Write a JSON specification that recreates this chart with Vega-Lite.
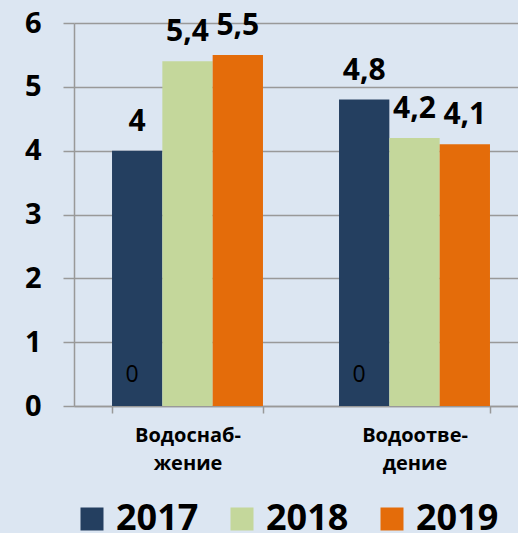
{
  "$schema": "https://vega.github.io/schema/vega-lite/v6.json",
  "width": 444,
  "height": 383,
  "autosize": {"type": "none"},
  "padding": {"left": 74, "top": 23, "right": 0, "bottom": 127},
  "background": "#dce6f2",
  "config": {
    "view": {"stroke": null},
    "font": "Open Sans",
    "axis": {"domainWidth": 1.5, "tickWidth": 1.5, "gridWidth": 1.5, "domainColor": "#999999", "tickColor": "#999999", "gridColor": "#999999"}
  },
  "data": {
    "values": [
      {"cat": "Водоснаб-|жение", "year": "2017", "value": 4.0, "label": "4", "zero": "0"},
      {"cat": "Водоснаб-|жение", "year": "2018", "value": 5.4, "label": "5,4", "zero": ""},
      {"cat": "Водоснаб-|жение", "year": "2019", "value": 5.5, "label": "5,5", "zero": ""},
      {"cat": "Водоотве-|дение", "year": "2017", "value": 4.8, "label": "4,8", "zero": "0"},
      {"cat": "Водоотве-|дение", "year": "2018", "value": 4.2, "label": "4,2", "zero": ""},
      {"cat": "Водоотве-|дение", "year": "2019", "value": 4.1, "label": "4,1", "zero": ""}
    ]
  },
  "encoding": {
    "x": {
      "field": "cat", "type": "nominal", "sort": null,
      "scale": {"range": [0, 454], "paddingInner": 0.335, "paddingOuter": 0.1675},
      "axis": {
        "title": null, "labelAngle": 0, "tickBand": "extent", "tickSize": 7, "grid": false,
        "labelFont": "Open Sans", "labelFontWeight": "bold", "labelFontSize": 20, "labelColor": "black",
        "labelPadding": 12, "labelLineHeight": 28, "labelExpr": "split(datum.label, '|')"
      }
    },
    "xOffset": {"field": "year", "type": "nominal", "sort": ["2017", "2018", "2019"]},
    "y": {
      "field": "value", "type": "quantitative",
      "scale": {"domain": [0, 6], "nice": false},
      "axis": {
        "title": null, "values": [0, 1, 2, 3, 4, 5, 6], "tickSize": 11, "grid": true,
        "labelFont": "Open Sans", "labelFontWeight": "bold", "labelFontSize": 29, "labelColor": "black",
        "labelPadding": 22
      }
    }
  },
  "layer": [
    {
      "mark": {"type": "bar"},
      "encoding": {
        "color": {
          "field": "year", "type": "nominal",
          "scale": {"domain": ["2017", "2018", "2019"], "range": ["#243f60", "#c4d79b", "#e46c0a"]},
          "legend": {
            "orient": "none", "legendX": 0, "legendY": 478, "direction": "horizontal", "title": null,
            "symbolType": "square", "symbolSize": 529, "symbolStrokeWidth": 0, "symbolOpacity": 1,
            "labelFont": "Open Sans", "labelFontWeight": "bold", "labelFontSize": 36, "labelColor": "black",
            "labelOffset": 6, "columnPadding": 25, "padding": 0
          }
        }
      }
    },
    {
      "mark": {"type": "text", "baseline": "alphabetic", "dy": -20, "font": "Open Sans", "fontWeight": "bold", "fontSize": 30, "color": "black"},
      "encoding": {"text": {"field": "label"}}
    },
    {
      "transform": [{"filter": "datum.zero != ''"}],
      "mark": {"type": "text", "baseline": "middle", "dy": -31, "dx": -5, "font": "Open Sans", "fontSize": 23, "color": "black"},
      "encoding": {"y": {"datum": 0}, "text": {"field": "zero"}}
    }
  ]
}
